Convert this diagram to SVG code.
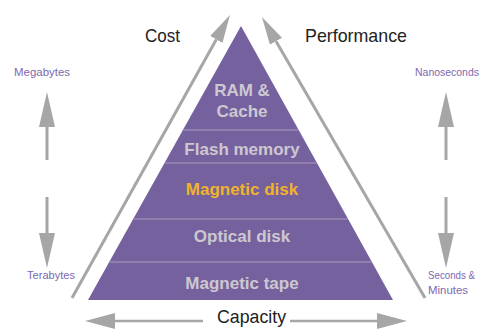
<svg xmlns="http://www.w3.org/2000/svg" width="481" height="329" viewBox="0 0 481 329">
  <style>
    .band { fill: #76619f; }
    .sep { stroke: #a99bbd; stroke-width: 1.2; }
    .lvl { font-family: "Liberation Sans", Arial, sans-serif; font-weight: bold; font-size: 17px; fill: #cdc8d0; text-anchor: middle; }
    .hot { fill: #f2b32c; }
    .axis { font-family: "Liberation Sans", Arial, sans-serif; font-size: 19px; fill: #222; }
    .unit { font-family: "Liberation Sans", Arial, sans-serif; font-size: 11px; fill: #7d68b0; }
    .shaft { stroke: #a6a6a6; fill: none; }
  </style>
  <defs>
    <marker id="headDiag" viewBox="0 -7 28 14" refX="0" refY="0" markerWidth="28" markerHeight="14" markerUnits="userSpaceOnUse" orient="auto">
      <path d="M0,-7 L28,0 L0,7 Z" fill="#a6a6a6"/>
    </marker>
    <marker id="headVert" viewBox="0 -8 35 16" refX="0" refY="0" markerWidth="35" markerHeight="16" markerUnits="userSpaceOnUse" orient="auto">
      <path d="M0,-8 L35,0 L0,8 Z" fill="#a6a6a6"/>
    </marker>
    <marker id="headHorz" viewBox="0 -8 30 16" refX="0" refY="0" markerWidth="30" markerHeight="16" markerUnits="userSpaceOnUse" orient="auto">
      <path d="M0,-8 L30,0 L0,8 Z" fill="#a6a6a6"/>
    </marker>
  </defs>

  <rect width="481" height="329" fill="#ffffff"/>

  <!-- pyramid levels, top to bottom -->
  <g id="level-ram-cache">
    <polygon class="band" points="241,26 182.9,130 298.7,130"/>
    <text class="lvl" x="242" y="96">RAM &amp;</text>
    <text class="lvl" x="242" y="117">Cache</text>
  </g>
  <g id="level-flash">
    <polygon class="band" points="182.9,130 298.7,130 317,163 164.5,163"/>
    <text class="lvl" x="242" y="155">Flash memory</text>
  </g>
  <g id="level-magnetic-disk">
    <polygon class="band" points="164.5,163 317,163 348.1,219 133.2,219"/>
    <text class="lvl hot" x="242" y="195">Magnetic disk</text>
  </g>
  <g id="level-optical-disk">
    <polygon class="band" points="133.2,219 348.1,219 371.9,262 109.2,262"/>
    <text class="lvl" x="242" y="242">Optical disk</text>
  </g>
  <g id="level-magnetic-tape">
    <polygon class="band" points="109.2,262 371.9,262 393,300 88,300"/>
    <text class="lvl" x="242" y="289">Magnetic tape</text>
  </g>

  <!-- level separators -->
  <g id="separators">
    <line class="sep" x1="183.5" y1="130" x2="298" y2="130"/>
    <line class="sep" x1="165" y1="163" x2="316.5" y2="163"/>
    <line class="sep" x1="134" y1="219" x2="347.5" y2="219"/>
    <line class="sep" x1="110" y1="262" x2="371" y2="262"/>
  </g>

  <!-- connectors -->
  <g id="connectors">
    <line class="shaft" stroke-width="3" x1="72" y1="298" x2="216.3" y2="39.5" marker-end="url(#headDiag)"/>
    <line class="shaft" stroke-width="3" x1="425" y1="298" x2="276" y2="41.2" marker-end="url(#headDiag)"/>
    <line class="shaft" stroke-width="3" x1="47" y1="160" x2="47" y2="127" marker-end="url(#headVert)"/>
    <line class="shaft" stroke-width="3" x1="47" y1="197" x2="47" y2="233" marker-end="url(#headVert)"/>
    <line class="shaft" stroke-width="3" x1="446" y1="160" x2="446" y2="127" marker-end="url(#headVert)"/>
    <line class="shaft" stroke-width="3" x1="446" y1="197" x2="446" y2="233" marker-end="url(#headVert)"/>
    <line class="shaft" stroke-width="2.5" x1="203" y1="321" x2="115" y2="321" marker-end="url(#headHorz)"/>
    <line class="shaft" stroke-width="2.5" x1="290" y1="321" x2="377" y2="321" marker-end="url(#headHorz)"/>
  </g>

  <!-- axis labels -->
  <g id="label-cost"><text class="axis" x="145" y="42" textLength="35" lengthAdjust="spacingAndGlyphs">Cost</text></g>
  <g id="label-performance"><text class="axis" x="305" y="42" textLength="102" lengthAdjust="spacingAndGlyphs">Performance</text></g>
  <g id="label-capacity"><text class="axis" x="217" y="323" textLength="69" lengthAdjust="spacingAndGlyphs">Capacity</text></g>

  <!-- scale ends -->
  <g id="label-megabytes"><text class="unit" x="14" y="76" textLength="56" lengthAdjust="spacingAndGlyphs">Megabytes</text></g>
  <g id="label-terabytes"><text class="unit" x="27" y="279" textLength="48" lengthAdjust="spacingAndGlyphs">Terabytes</text></g>
  <g id="label-nanoseconds"><text class="unit" x="415" y="76" textLength="64" lengthAdjust="spacingAndGlyphs">Nanoseconds</text></g>
  <g id="label-seconds">
    <text class="unit" x="428" y="279" textLength="47" lengthAdjust="spacingAndGlyphs">Seconds &amp;</text>
    <text class="unit" x="428" y="294" textLength="40" lengthAdjust="spacingAndGlyphs">Minutes</text>
  </g>
</svg>
